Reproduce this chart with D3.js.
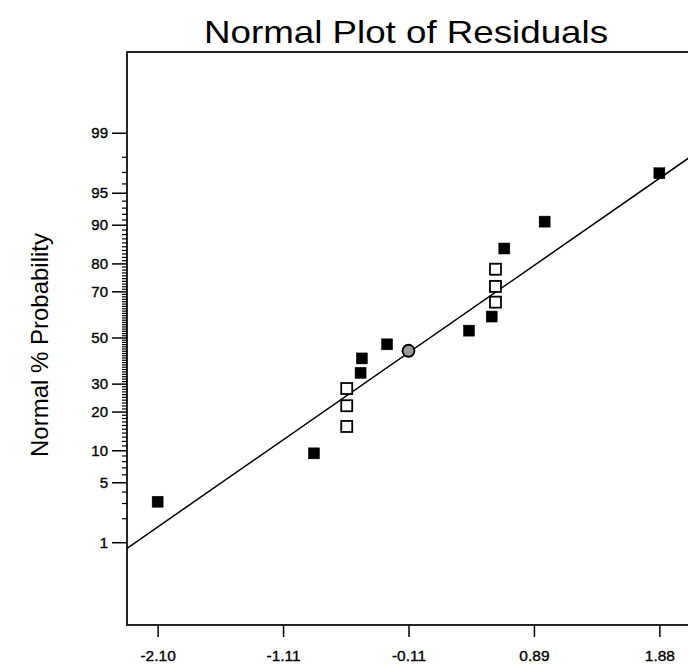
<!DOCTYPE html>
<html><head><meta charset="utf-8">
<script src="https://cdn.jsdelivr.net/npm/d3@7"></script>
<style>body{margin:0;background:#fff} svg{display:block}</style>
</head><body>
<svg id="chart" width="688" height="668"></svg>
<script>
// ---- data ----
const residuals = [-2.10, -0.86, -0.60, -0.60, -0.60, -0.49, -0.48, -0.28, 0.37, 0.55, 0.58, 0.58, 0.58, 0.65, 0.97, 1.88];
const normalPct = [3.1, 9.4, 15.6, 21.9, 28.1, 34.4, 40.6, 46.9, 53.1, 59.4, 65.6, 71.9, 78.1, 84.4, 90.6, 96.9];
const markerKind = ["filled","filled","open","open","open","filled","filled","filled","filled","filled","open","open","open","filled","filled","filled"];
const circleResid = [-0.11];
const circlePct = [44.0];
const lineResid = [-2.343, 2.123];
const linePct = [0.83, 97.98];
const xTickValues = [-2.10, -1.105, -0.11, 0.885, 1.88];
const xTickLabels = ["-2.10", "-1.11", "-0.11", "0.89", "1.88"];
const yMajorPct = [1, 5, 10, 20, 30, 50, 70, 80, 90, 95, 99];
const yMinorPct = [2,3,4,6,7,8,9].concat(d3.range(11,90).filter(v => ![20,30,50,70,80].includes(v)), [91,92,93,94,96,97,98]);

// inverse normal CDF (Acklam)
function probit(p){
  const a=[-3.969683028665376e+01,2.209460984245205e+02,-2.759285104469687e+02,1.383577518672690e+02,-3.066479806614716e+01,2.506628277459239e+00];
  const b=[-5.447609879822406e+01,1.615858368580409e+02,-1.556989798598866e+02,6.680131188771972e+01,-1.328068155288572e+01];
  const c=[-7.784894002430293e-03,-3.223964580411365e-01,-2.400758277161838e+00,-2.549732539343734e+00,4.374664141464968e+00,2.938163982698783e+00];
  const d=[7.784695709041462e-03,3.224671290700398e-01,2.445134137142996e+00,3.754408661907416e+00];
  const pl=0.02425, ph=1-pl;
  let q,r;
  if(p<pl){q=Math.sqrt(-2*Math.log(p));return (((((c[0]*q+c[1])*q+c[2])*q+c[3])*q+c[4])*q+c[5])/((((d[0]*q+d[1])*q+d[2])*q+d[3])*q+1);}
  if(p<=ph){q=p-0.5;r=q*q;return (((((a[0]*r+a[1])*r+a[2])*r+a[3])*r+a[4])*r+a[5])*q/(((((b[0]*r+b[1])*r+b[2])*r+b[3])*r+b[4])*r+1);}
  q=Math.sqrt(-2*Math.log(1-p));return -(((((c[0]*q+c[1])*q+c[2])*q+c[3])*q+c[4])*q+c[5])/((((d[0]*q+d[1])*q+d[2])*q+d[3])*q+1);
}

const svg = d3.select("#chart");
const plot = {left:127, right:690, top:52, bottom:625};
const x = d3.scaleLinear().domain([-2.343, 2.123]).range([plot.left, plot.right]);
const z = d3.scaleLinear().domain([-3.267, 3.244]).range([plot.bottom, plot.top]);
const yPct = p => z(probit(p/100));
const font = "'Liberation Sans', Arial, Helvetica, sans-serif";

svg.append("rect").attr("width",688).attr("height",668).attr("fill","#fff");

// title
svg.append("text").attr("x",406).attr("y",43).attr("text-anchor","middle")
  .attr("font-family",font).attr("font-size",32).attr("fill","#000")
  .attr("textLength",404).attr("lengthAdjust","spacingAndGlyphs")
  .text("Normal Plot of Residuals");

// y title
svg.append("text").attr("transform","translate(48,345) rotate(-90)").attr("text-anchor","middle")
  .attr("font-family",font).attr("font-size",24).attr("fill","#000")
  .attr("textLength",224).attr("lengthAdjust","spacingAndGlyphs")
  .text("Normal % Probability");

// clip
svg.append("clipPath").attr("id","clip").append("rect")
  .attr("x",plot.left).attr("y",plot.top).attr("width",plot.right-plot.left).attr("height",plot.bottom-plot.top);

// y minor ticks
const yMinor = svg.append("g").attr("transform",`translate(${plot.left},0)`)
  .call(d3.axisLeft(z).tickValues(yMinorPct.map(p=>probit(p/100))).tickSize(5).tickFormat(""));
yMinor.select(".domain").remove();
yMinor.selectAll("line").attr("stroke","#000").attr("stroke-width",1.2);

// y major ticks
const yMajor = svg.append("g").attr("transform",`translate(${plot.left},0)`)
  .call(d3.axisLeft(z).tickValues(yMajorPct.map(p=>probit(p/100))).tickSize(15).tickPadding(4)
    .tickFormat((d,i)=>yMajorPct[i]));
yMajor.select(".domain").remove();
yMajor.selectAll("line").attr("stroke","#000").attr("stroke-width",1.5);
yMajor.selectAll("text").attr("font-family",font).attr("font-size",15).attr("fill","#000")
  .attr("stroke","#000").attr("stroke-width",0.35);

// x ticks
const xAxis = svg.append("g").attr("transform",`translate(0,${plot.bottom})`)
  .call(d3.axisBottom(x).tickValues(xTickValues).tickSize(12).tickPadding(13)
    .tickFormat((d,i)=>xTickLabels[i]));
xAxis.select(".domain").remove();
xAxis.selectAll("line").attr("stroke","#000").attr("stroke-width",1.5);
xAxis.selectAll("text").attr("font-family",font).attr("font-size",15.5).attr("fill","#000")
  .attr("stroke","#000").attr("stroke-width",0.35);

// frame
svg.append("rect").attr("x",plot.left).attr("y",plot.top)
  .attr("width",plot.right-plot.left).attr("height",plot.bottom-plot.top)
  .attr("fill","none").attr("stroke","#000").attr("stroke-width",1.7);

// fitted normal line
svg.append("path").attr("clip-path","url(#clip)")
  .datum(lineResid.map((r,i)=>[r,linePct[i]]))
  .attr("d", d3.line().x(d=>x(d[0])).y(d=>yPct(d[1])))
  .attr("fill","none").attr("stroke","#000").attr("stroke-width",1.5);

// points
const s = 11;
svg.append("g").selectAll("rect").data(residuals).join("rect")
  .attr("x",(d)=>x(d)-s/2).attr("y",(d,i)=>yPct(normalPct[i])-s/2)
  .attr("width",s).attr("height",s)
  .attr("fill",(d,i)=>markerKind[i]==="filled"?"#000":"#fff")
  .attr("stroke","#000").attr("stroke-width",(d,i)=>markerKind[i]==="filled"?0.5:1.8);

// circle marker
svg.append("g").selectAll("circle").data(circleResid).join("circle")
  .attr("cx",d=>x(d)).attr("cy",(d,i)=>yPct(circlePct[i])).attr("r",6)
  .attr("fill","#999").attr("stroke","#000").attr("stroke-width",1.8);
</script>
</body></html>
